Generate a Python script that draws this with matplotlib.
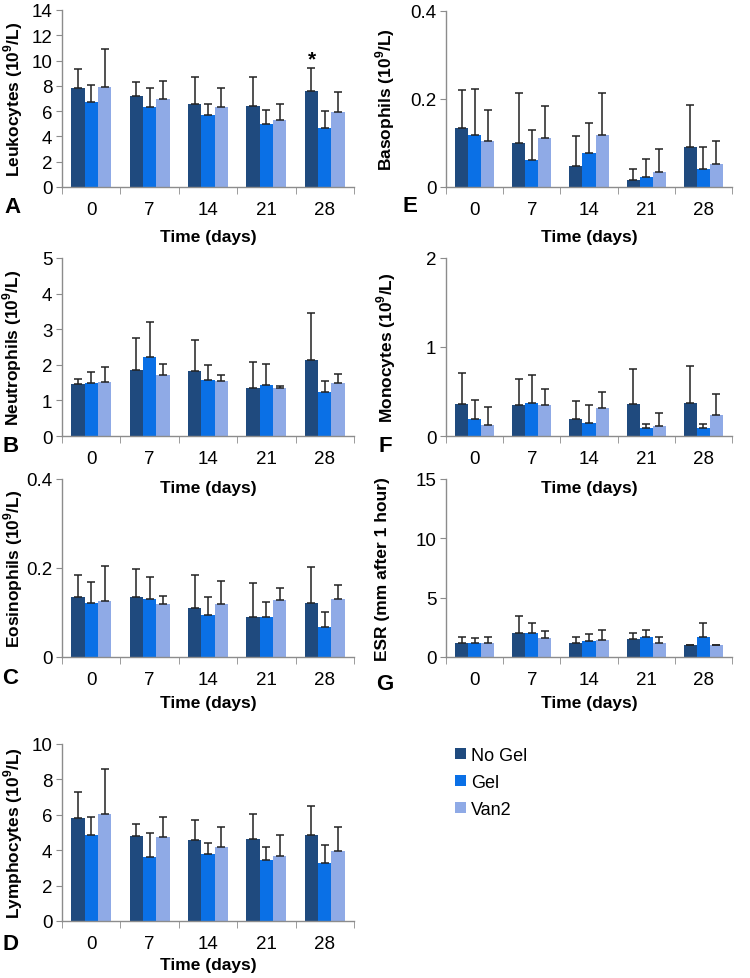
import numpy as np
import matplotlib
matplotlib.use("Agg")
import matplotlib.pyplot as plt
from matplotlib.patches import Patch

plt.rcParams['font.family'] = ['Liberation Sans', 'DejaVu Sans']
plt.rcParams['mathtext.fontset'] = 'custom'
plt.rcParams['mathtext.rm'] = 'Liberation Sans'
plt.rcParams['mathtext.bf'] = 'Liberation Sans:bold'

days = ['0', '7', '14', '21', '28']
groups = ['No Gel', 'Gel', 'Van2']
colors = ['#1F4A7E', '#0A70E6', '#8FAAE6']

# media e deviazione standard, righe = No Gel, Gel, Van2
leuko = [[7.8, 7.2, 6.6, 6.4, 7.6], [6.7, 6.3, 5.7, 5.0, 4.7], [7.9, 7.0, 6.3, 5.3, 5.9]]
leuko_sd = [[1.5, 1.1, 2.1, 2.3, 1.8], [1.4, 1.5, 0.9, 1.1, 1.3], [3.0, 1.4, 1.5, 1.3, 1.6]]

neutro = [[1.47, 1.85, 1.82, 1.36, 2.14], [1.49, 2.22, 1.58, 1.43, 1.24], [1.52, 1.71, 1.55, 1.34, 1.50]]
neutro_sd = [[0.14, 0.89, 0.87, 0.72, 1.31], [0.31, 0.99, 0.42, 0.60, 0.30], [0.43, 0.32, 0.16, 0.07, 0.23]]

eos = [[0.135, 0.135, 0.109, 0.091, 0.122], [0.122, 0.131, 0.094, 0.091, 0.068], [0.125, 0.119, 0.119, 0.128, 0.131]]
eos_sd = [[0.049, 0.063, 0.075, 0.076, 0.080], [0.046, 0.049, 0.040, 0.033, 0.034], [0.079, 0.018, 0.052, 0.028, 0.030]]

lympho = [[5.8, 4.8, 4.6, 4.65, 4.85], [4.85, 3.6, 3.8, 3.42, 3.3], [6.05, 4.75, 4.18, 3.7, 3.95]]
lympho_sd = [[1.5, 0.7, 1.1, 1.4, 1.65], [1.05, 1.4, 0.62, 0.78, 0.97], [2.55, 1.15, 1.12, 1.17, 1.35]]

baso = [[0.133, 0.101, 0.048, 0.015, 0.092], [0.118, 0.061, 0.077, 0.023, 0.041], [0.105, 0.111, 0.118, 0.035, 0.053]]
baso_sd = [[0.088, 0.112, 0.068, 0.027, 0.094], [0.105, 0.069, 0.068, 0.041, 0.051], [0.069, 0.074, 0.095, 0.051, 0.051]]

mono = [[0.356, 0.35, 0.195, 0.356, 0.375], [0.195, 0.37, 0.15, 0.094, 0.086], [0.12, 0.345, 0.31, 0.11, 0.24]]
mono_sd = [[0.35, 0.29, 0.195, 0.40, 0.41], [0.205, 0.32, 0.195, 0.046, 0.044], [0.21, 0.185, 0.19, 0.15, 0.23]]

esr = [[1.2, 2.0, 1.2, 1.5, 1.0], [1.2, 2.0, 1.35, 1.7, 1.7], [1.2, 1.6, 1.45, 1.2, 1.0]]
esr_sd = [[0.45, 1.45, 0.45, 0.55, 0.0], [0.4, 0.9, 0.55, 0.55, 1.2], [0.45, 0.55, 0.85, 0.45, 0.0]]

W, H = 750, 979
fig = plt.figure(figsize=(W / 100, H / 100), dpi=100)


def px_axes(left, top, right, bottom):
    ax = fig.add_axes([left / W, 1 - bottom / H, (right - left) / W, (bottom - top) / H])
    ax.patch.set_visible(False)  # così le etichette del pannello sopra restano visibili
    return ax


def pannello(ax, means, sds, ylabel, yticks, yticklabels, ylab_x, letter, letter_xy, xpad=4):
    x = np.arange(len(days))
    w = 0.228
    for i in range(3):
        ax.bar(x + (i - 1) * w, means[i], w, color=colors[i], zorder=2)
        ax.errorbar(x + (i - 1) * w, means[i], yerr=[np.zeros(len(days)), sds[i]],
                    fmt='none', ecolor='#222222', elinewidth=1.1, capsize=2.6, capthick=1.1, zorder=3)
    ax.set_xlim(-0.5, len(days) - 0.5)
    ax.set_ylim(yticks[0], yticks[-1])
    ax.set_yticks(yticks)
    ax.set_yticklabels(yticklabels)
    ax.set_xticks(x)
    ax.set_xticklabels(days)
    ax.set_xticks(np.arange(len(days) + 1) - 0.5, minor=True)
    for s in ['top', 'right']:
        ax.spines[s].set_visible(False)
    for s in ['left', 'bottom']:
        ax.spines[s].set_color('#8c8c8c')
        ax.spines[s].set_linewidth(1.0)
    ax.tick_params(axis='x', which='major', length=0, pad=10, labelsize=13.5)
    ax.tick_params(axis='x', which='minor', length=5, color='#8c8c8c', direction='out')
    ax.tick_params(axis='y', length=4, color='#8c8c8c', pad=3, labelsize=13.5)
    ax.set_xlabel('Time (days)', fontsize=12.5, fontweight='bold', labelpad=xpad)
    ax.set_ylabel(ylabel, fontsize=12.5, fontweight='bold')
    # coordinata x = bordo destro dell'etichetta ruotata
    ax.yaxis.set_label_coords(ylab_x, 0.5)
    fig.text(letter_xy[0] / W, 1 - letter_xy[1] / H, letter, fontsize=16, fontweight='bold',
             ha='left', va='center')


lab = lambda s: s + r' (10$^{\mathbf{9}}$/L)'

axA = px_axes(62, 11, 354, 188)
pannello(axA, leuko, leuko_sd, lab('Leukocytes'), [0, 2, 4, 6, 8, 10, 12, 14],
         ['0', '2', '4', '6', '8', '10', '12', '14'], -0.128, 'A', (4, 208), xpad=8)
axA.text(4 - 0.228, 10.1, '*', ha='center', va='center', fontsize=15, fontweight='bold')

axB = px_axes(62, 259, 354, 437)
pannello(axB, neutro, neutro_sd, lab('Neutrophils'), [0, 1, 2, 3, 4, 5],
         ['0', '1', '2', '3', '4', '5'], -0.13, 'B', (2, 447), xpad=9.5)

axC = px_axes(62, 480, 354, 658)
pannello(axC, eos, eos_sd, lab('Eosinophils'), [0, 0.2, 0.4],
         ['0', '0.2', '0.4'], -0.128, 'C', (2, 679), xpad=5)

axD = px_axes(62, 745, 354, 922)
pannello(axD, lympho, lympho_sd, lab('Lymphocytes'), [0, 2, 4, 6, 8, 10],
         ['0', '2', '4', '6', '8', '10'], -0.128, 'D', (3, 945), xpad=4)

axE = px_axes(446, 12, 732, 188)
pannello(axE, baso, baso_sd, lab('Basophils'), [0, 0.2, 0.4],
         ['0', '0.2', '0.4'], -0.17, 'E', (402, 207), xpad=8)

axF = px_axes(446, 259, 732, 437)
pannello(axF, mono, mono_sd, lab('Monocytes'), [0, 1, 2],
         ['0', '1', '2'], -0.168, 'F', (379, 447), xpad=9.5)

axG = px_axes(446, 480, 732, 658)
pannello(axG, esr, esr_sd, 'ESR (mm after 1 hour)', [0, 5, 10, 15],
         ['0', '5', '10', '15'], -0.195, 'G', (376, 685), xpad=5)

handles = [Patch(facecolor=c) for c in colors]
fig.legend(handles, groups, loc='upper left', bbox_to_anchor=(455 / W, 1 - 748 / H),
           frameon=False, fontsize=13, handlelength=0.6, handleheight=0.6,
           handletextpad=0.3, labelspacing=0.55, borderaxespad=0, borderpad=0)

fig.savefig('out.png', dpi=100)
